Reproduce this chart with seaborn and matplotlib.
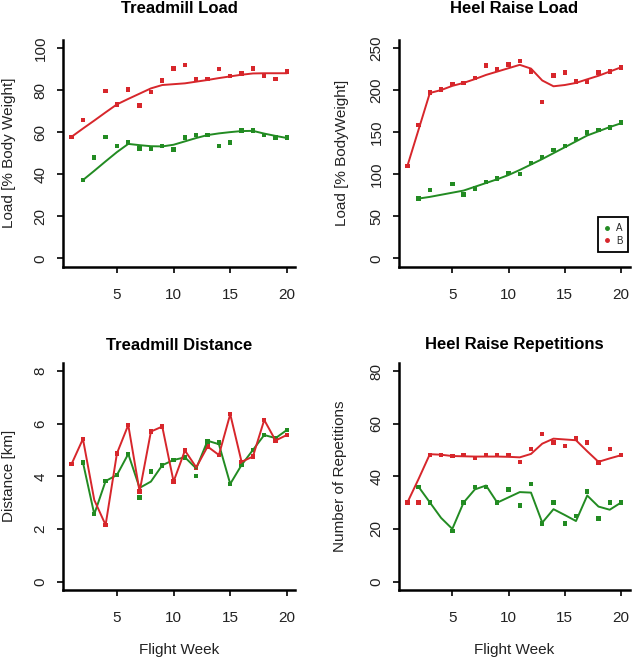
import numpy as np
import pandas as pd
import seaborn as sns
import matplotlib.pyplot as plt
from matplotlib.lines import Line2D

nan = np.nan
weeks = list(range(1, 21))

# Treadmill Load [% body weight]
tl_a_obs = [nan, 37.2, 47.9, 57.8, 53.4, 55.0, 52.3, 52.3, 53.4, 51.8, 57.4, 58.6, 58.6, 53.4, 55.1, 60.7, 60.7, 58.6, 57.4, 57.4]
tl_a_fit = [nan, 37.2, 41.6, 46.1, 50.5, 54.4, 53.8, 53.3, 53.2, 54.0, 55.6, 57.2, 58.6, 59.4, 60.0, 60.5, 60.6, 59.3, 58.2, 57.2]
tl_b_obs = [57.8, 65.8, nan, 79.7, 73.2, 80.3, 72.6, 79.1, 84.5, 90.3, 91.9, 85.3, 85.3, 89.9, 86.8, 87.8, 90.3, 86.8, 85.4, 88.9]
tl_b_fit = [57.8, 61.7, 65.5, 69.4, 73.2, 75.8, 78.3, 80.8, 82.4, 82.8, 83.2, 84.0, 84.8, 85.7, 86.5, 87.3, 87.9, 88.0, 88.0, 88.0]

# Heel Raise Load [% body weight]
hr_a_obs = [nan, 71.2, 81.1, nan, 88.6, 75.9, 83.0, 91.0, 94.9, 101.3, 100.1, 113.1, 120.6, 128.6, 133.3, 142.0, 149.5, 152.7, 155.5, 161.4]
hr_a_fit = [nan, 71.0, 73.0, 75.5, 78.0, 80.5, 85.0, 89.5, 94.0, 99.0, 105.0, 111.5, 118.0, 125.0, 132.0, 139.0, 146.0, 151.0, 156.0, 160.5]
hr_b_obs = [109.6, 158.6, 197.0, 200.6, 206.9, 208.5, 214.4, 229.0, 224.3, 230.2, 234.2, 222.3, 185.9, 217.2, 220.7, 210.0, 210.0, 220.7, 221.9, 227.0]
hr_b_fit = [109.6, 153.0, 196.5, 200.0, 205.0, 208.5, 213.0, 218.0, 222.0, 226.0, 230.0, 225.5, 211.4, 204.5, 206.0, 208.5, 212.8, 217.0, 222.0, 227.0]

# Treadmill Distance [km]
td_a_obs = [nan, 4.53, 2.56, 3.82, 4.05, 4.85, 3.20, 4.18, 4.41, 4.62, 4.72, 4.01, 5.32, 5.28, 3.71, 4.43, 5.00, 5.57, 5.45, 5.76]
td_a_fit = [nan, 4.53, 2.56, 3.82, 4.05, 4.85, 3.56, 3.80, 4.42, 4.62, 4.72, 4.30, 5.35, 5.22, 3.71, 4.43, 5.00, 5.57, 5.45, 5.76]
td_b_obs = [4.47, 5.42, nan, 2.15, 4.87, 5.95, 3.42, 5.70, 5.89, 3.80, 4.98, 4.34, 5.13, 4.81, 6.36, 4.55, 4.75, 6.14, 5.36, 5.57]
td_b_fit = [4.47, 5.42, 3.10, 2.15, 4.87, 5.95, 3.42, 5.70, 5.89, 3.80, 4.98, 4.34, 5.13, 4.81, 6.36, 4.55, 4.75, 6.14, 5.36, 5.57]

# Heel Raise Repetitions
rp_a_obs = [nan, 36.0, 30.0, nan, 19.2, 30.0, 36.0, 36.0, 30.0, 35.0, 28.9, 37.1, 22.0, 30.0, 22.0, 24.9, 34.2, 24.0, 30.0, 30.0]
rp_a_fit = [nan, 36.0, 30.1, 24.2, 20.0, 30.0, 35.0, 36.5, 30.0, 32.0, 34.0, 33.8, 22.4, 27.5, 25.3, 23.0, 32.7, 28.5, 27.3, 30.0]
rp_b_obs = [30.0, 30.0, 48.0, 48.0, 47.7, 48.0, 47.0, 48.0, 48.0, 48.0, 45.4, 50.3, 56.0, 52.8, 51.4, 54.4, 52.8, 45.3, 50.3, 48.0]
rp_b_fit = [30.0, 39.0, 48.4, 48.2, 47.7, 47.6, 47.5, 47.5, 47.5, 47.4, 47.2, 48.5, 52.4, 54.3, 54.0, 53.7, 49.5, 45.5, 46.8, 48.0]

colors = {"A": "#228B22", "B": "#D7262B"}
FONT = "Liberation Sans"

# build one long table for seaborn
rows = []
panels = {
    "tl": (tl_a_obs, tl_a_fit, tl_b_obs, tl_b_fit),
    "hr": (hr_a_obs, hr_a_fit, hr_b_obs, hr_b_fit),
    "td": (td_a_obs, td_a_fit, td_b_obs, td_b_fit),
    "rp": (rp_a_obs, rp_a_fit, rp_b_obs, rp_b_fit),
}
for key, (ao, af, bo, bf) in panels.items():
    for grp, obs, fit in (("A", ao, af), ("B", bo, bf)):
        for w, o, f in zip(weeks, obs, fit):
            rows.append({"panel": key, "group": grp, "week": w, "obs": o, "fit": f})
df = pd.DataFrame(rows)

sns.set_style("ticks")
plt.rcParams["font.family"] = [FONT, "DejaVu Sans"]

W, H = 633, 660
fig = plt.figure(figsize=(W / 100, H / 100), dpi=100)


def px_axes(left, top, right, bottom):
    return fig.add_axes([left / W, 1 - bottom / H, (right - left) / W, (bottom - top) / H])


layout = {
    # key: (rect px, ylim, yticks, title, ylabel, ylabel_x)
    "tl": ((63, 39.6, 295.5, 266.7), (-4, 104), [0, 20, 40, 60, 80, 100],
           "Treadmill Load", "Load [% Body Weight]", 9),
    "hr": ((398.8, 39.6, 629.5, 266.7), (-10, 260), [0, 50, 100, 150, 200, 250],
           "Heel Raise Load", "Load [% BodyWeight]", 342),
    "td": ((63, 362.6, 295.5, 590), (-0.32, 8.32), [0, 2, 4, 6, 8],
           "Treadmill Distance", "Distance [km]", 9),
    "rp": ((398.8, 362.6, 629.5, 590), (-3.2, 83.2), [0, 20, 40, 60, 80],
           "Heel Raise Repetitions", "Number of Repetitions", 340),
}

axes = {}
for key, (rect, ylim, yticks, title, ylabel, ylx) in layout.items():
    ax = px_axes(*rect)
    axes[key] = ax
    sub = df[df["panel"] == key]
    sns.lineplot(data=sub.dropna(subset=["fit"]), x="week", y="fit", hue="group",
                 palette=colors, estimator=None, linewidth=1.4, legend=False, ax=ax)
    sns.scatterplot(data=sub.dropna(subset=["obs"]), x="week", y="obs", hue="group",
                    palette=colors, marker="s", s=10, linewidth=0, legend=False, ax=ax)
    ax.set_xlim(0.24, 20.76)
    ax.set_ylim(*ylim)
    ax.set_xticks([5, 10, 15, 20])
    ax.set_yticks(yticks)
    ax.set_xlabel("")
    ax.set_ylabel("")
    for side in ("top", "right"):
        ax.spines[side].set_visible(False)
    for side in ("left", "bottom"):
        ax.spines[side].set_linewidth(1.8)
        ax.spines[side].set_color("black")
    ax.tick_params(axis="both", length=4, width=1.2, color="black",
                   labelsize=11, labelcolor="#222222")
    ax.tick_params(axis="x", pad=11)
    ax.tick_params(axis="y", pad=7, labelrotation=90)
    for lbl in ax.get_yticklabels():
        lbl.set_va("center")

    l, t, r, b = rect
    cx = (l + r) / 2
    title_y = 8.5 if t < 100 else 345
    fig.text(cx / W, 1 - title_y / H, title, ha="center", va="center",
             fontsize=12, fontweight="bold", color="black")
    fig.text(ylx / W, 1 - ((t + b) / 2) / H, ylabel, rotation=90, ha="center",
             va="center", fontsize=11, color="#222222")

for key in ("td", "rp"):
    l, t, r, b = layout[key][0]
    fig.text(((l + r) / 2) / W, 1 - 650 / H, "Flight Week", ha="center",
             va="center", fontsize=11, color="#222222")

handles = [Line2D([], [], marker="o", linestyle="", markersize=2.5,
                  color=colors[g], label=g) for g in ("A", "B")]
leg = axes["hr"].legend(handles=handles, loc="lower right",
                        bbox_to_anchor=(0.995, 0.066), borderaxespad=0,
                        fontsize=7, handlelength=0.8, handletextpad=0.5,
                        labelspacing=0.3, borderpad=0.6, fancybox=False,
                        framealpha=1)
leg.get_frame().set_edgecolor("black")
leg.get_frame().set_linewidth(1.3)

fig.savefig("out.png", dpi=100)
